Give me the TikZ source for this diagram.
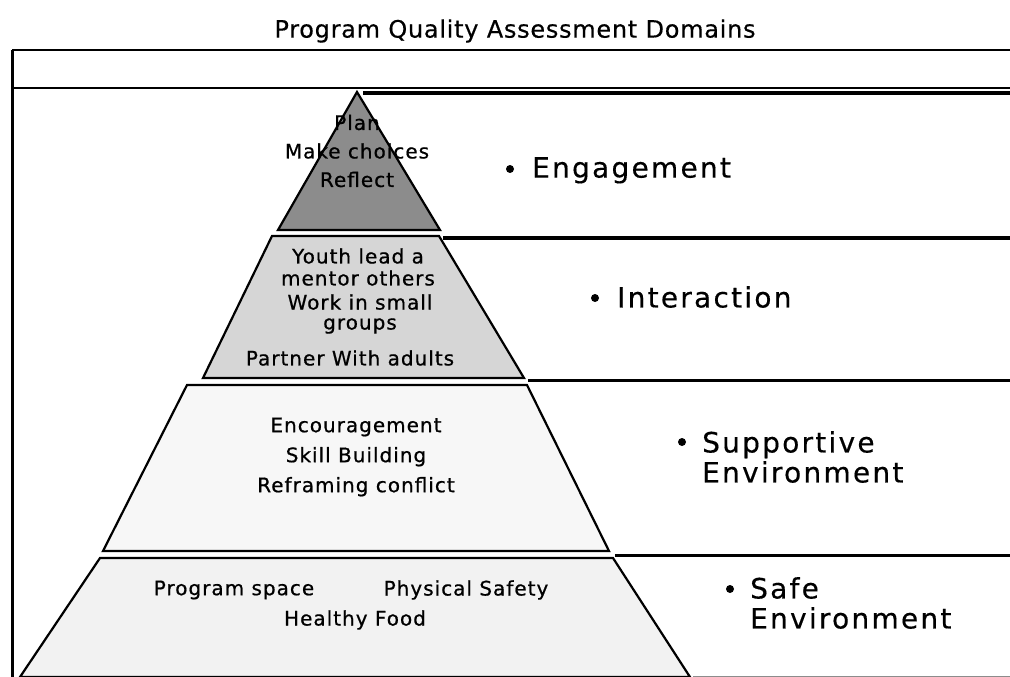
\documentclass[tikz,border=0pt]{standalone}
\usepackage{fontspec}
\setmainfont{DejaVu Sans}
\newfontfamily\titlefont{DejaVu Sans}[LetterSpace=3,FakeBold=0.4]
\newfontfamily\lblfont{DejaVu Sans}[LetterSpace=8,FakeBold=0.4]
\newfontfamily\pyrfont{DejaVu Sans}[LetterSpace=5,FakeBold=0.7]
\usetikzlibrary{positioning}

\begin{document}
\begin{tikzpicture}[x=1pt,y=-1pt,
  frame/.style={line width=2pt},
  rule/.style={line width=4pt},
  midrule/.style={line width=3pt},
  lvl/.style={draw,line width=2.2pt,line join=miter},
  pyr/.style={font=\pyrfont\fontsize{20}{28.5}\selectfont,align=center,inner sep=0pt},
  lbl/.style={font=\lblfont\fontsize{28}{30}\selectfont,align=left,inner sep=0pt,anchor=north west},
  dot/.style={circle,fill=black,inner sep=0pt,minimum size=8pt}]
  \useasboundingbox (0,0) rectangle (1010,677);

  \node[font=\titlefont\fontsize{24}{28}\selectfont,inner sep=0pt] (title) at (515,31) {Program Quality Assessment Domains};

  % frame
  \coordinate (f1) at (12,50);  \coordinate (f2) at (1010,50);
  \coordinate (f3) at (12,88);  \coordinate (f4) at (1010,88);
  \coordinate (f5) at (12,677);
  \draw[frame] (f1)--(f2); \draw[frame] (f3)--(f4);
  \draw[line width=3pt] (f1)--(f5);

  % pyramid levels
  \coordinate (a1) at (357,92);
  \coordinate (a2) at (278,230);  \coordinate (a3) at (440,230);
  \coordinate (b1) at (272,236);  \coordinate (b2) at (439,236);
  \coordinate (b3) at (524,378);  \coordinate (b4) at (203,378);
  \coordinate (c1) at (187,385);  \coordinate (c2) at (527,385);
  \coordinate (c3) at (609,551);  \coordinate (c4) at (103,551);
  \coordinate (d1) at (100,558);  \coordinate (d2) at (613,558);
  \coordinate (d3) at (690,677);  \coordinate (d4) at (20,677);
  \filldraw[lvl,fill=black!45] (a1)--(a3)--(a2)--cycle;
  \filldraw[lvl,fill=black!16] (b1)--(b2)--(b3)--(b4)--cycle;
  \filldraw[lvl,fill=black!3]  (c1)--(c2)--(c3)--(c4)--cycle;
  \filldraw[lvl,fill=black!5]  (d1)--(d2)--(d3)--(d4)--cycle;

  % rules to the right
  \coordinate (r1) at (363,93);   \coordinate (e1) at (1010,93);
  \coordinate (r2) at (443,238);  \coordinate (e2) at (1010,238);
  \coordinate (r3) at (528,380);  \coordinate (e3) at (1010,380);
  \coordinate (r4) at (615,555);  \coordinate (e4) at (1010,555);
  \coordinate (r5) at (693,676);  \coordinate (e5) at (1010,676);
  \draw[rule] (r1)--(e1);
  \draw[rule] (r2)--(e2);
  \draw[midrule] (r3)--(e3);
  \draw[midrule] (r4)--(e4);
  \draw[black!45,line width=1pt] (r5)--(e5);

  % text in the pyramid
  \node[pyr] (eng) at (357,151) {Plan\\Make choices\\Reflect};
  \node[pyr,font=\pyrfont\fontsize{20}{22}\selectfont] (lead) at (358,267) {Youth lead a\\mentor others};
  \node[pyr,font=\pyrfont\fontsize{20}{20}\selectfont] (small) at (360,314) {Work in small\\groups};
  \node[pyr] (adults) at (350,358) {Partner With adults};
  \node[pyr,font=\pyrfont\fontsize{20}{30}\selectfont] (supp) at (356,457) {Encouragement\\Skill Building\\Reframing conflict};
  \node[pyr] (space) at (234,590) {Program space};
  \node[pyr] (phys) at (466,590) {Physical Safety};
  \node[pyr] (food) at (355,620) {Healthy Food};

  % domain labels
  \node[dot] (d-eng) at (510,169) {};
  \node[lbl] (l-eng) at (532,157) {Engagement};
  \node[dot] (d-int) at (595,298) {};
  \node[lbl] (l-int) at (617,286) {Interaction};
  \node[dot] (d-supp) at (682,442) {};
  \node[lbl] (l-supp) at (702,431) {Supportive\\Environment};
  \node[dot] (d-safe) at (730,589) {};
  \node[lbl] (l-safe) at (750,577) {Safe\\Environment};
\end{tikzpicture}
\end{document}
